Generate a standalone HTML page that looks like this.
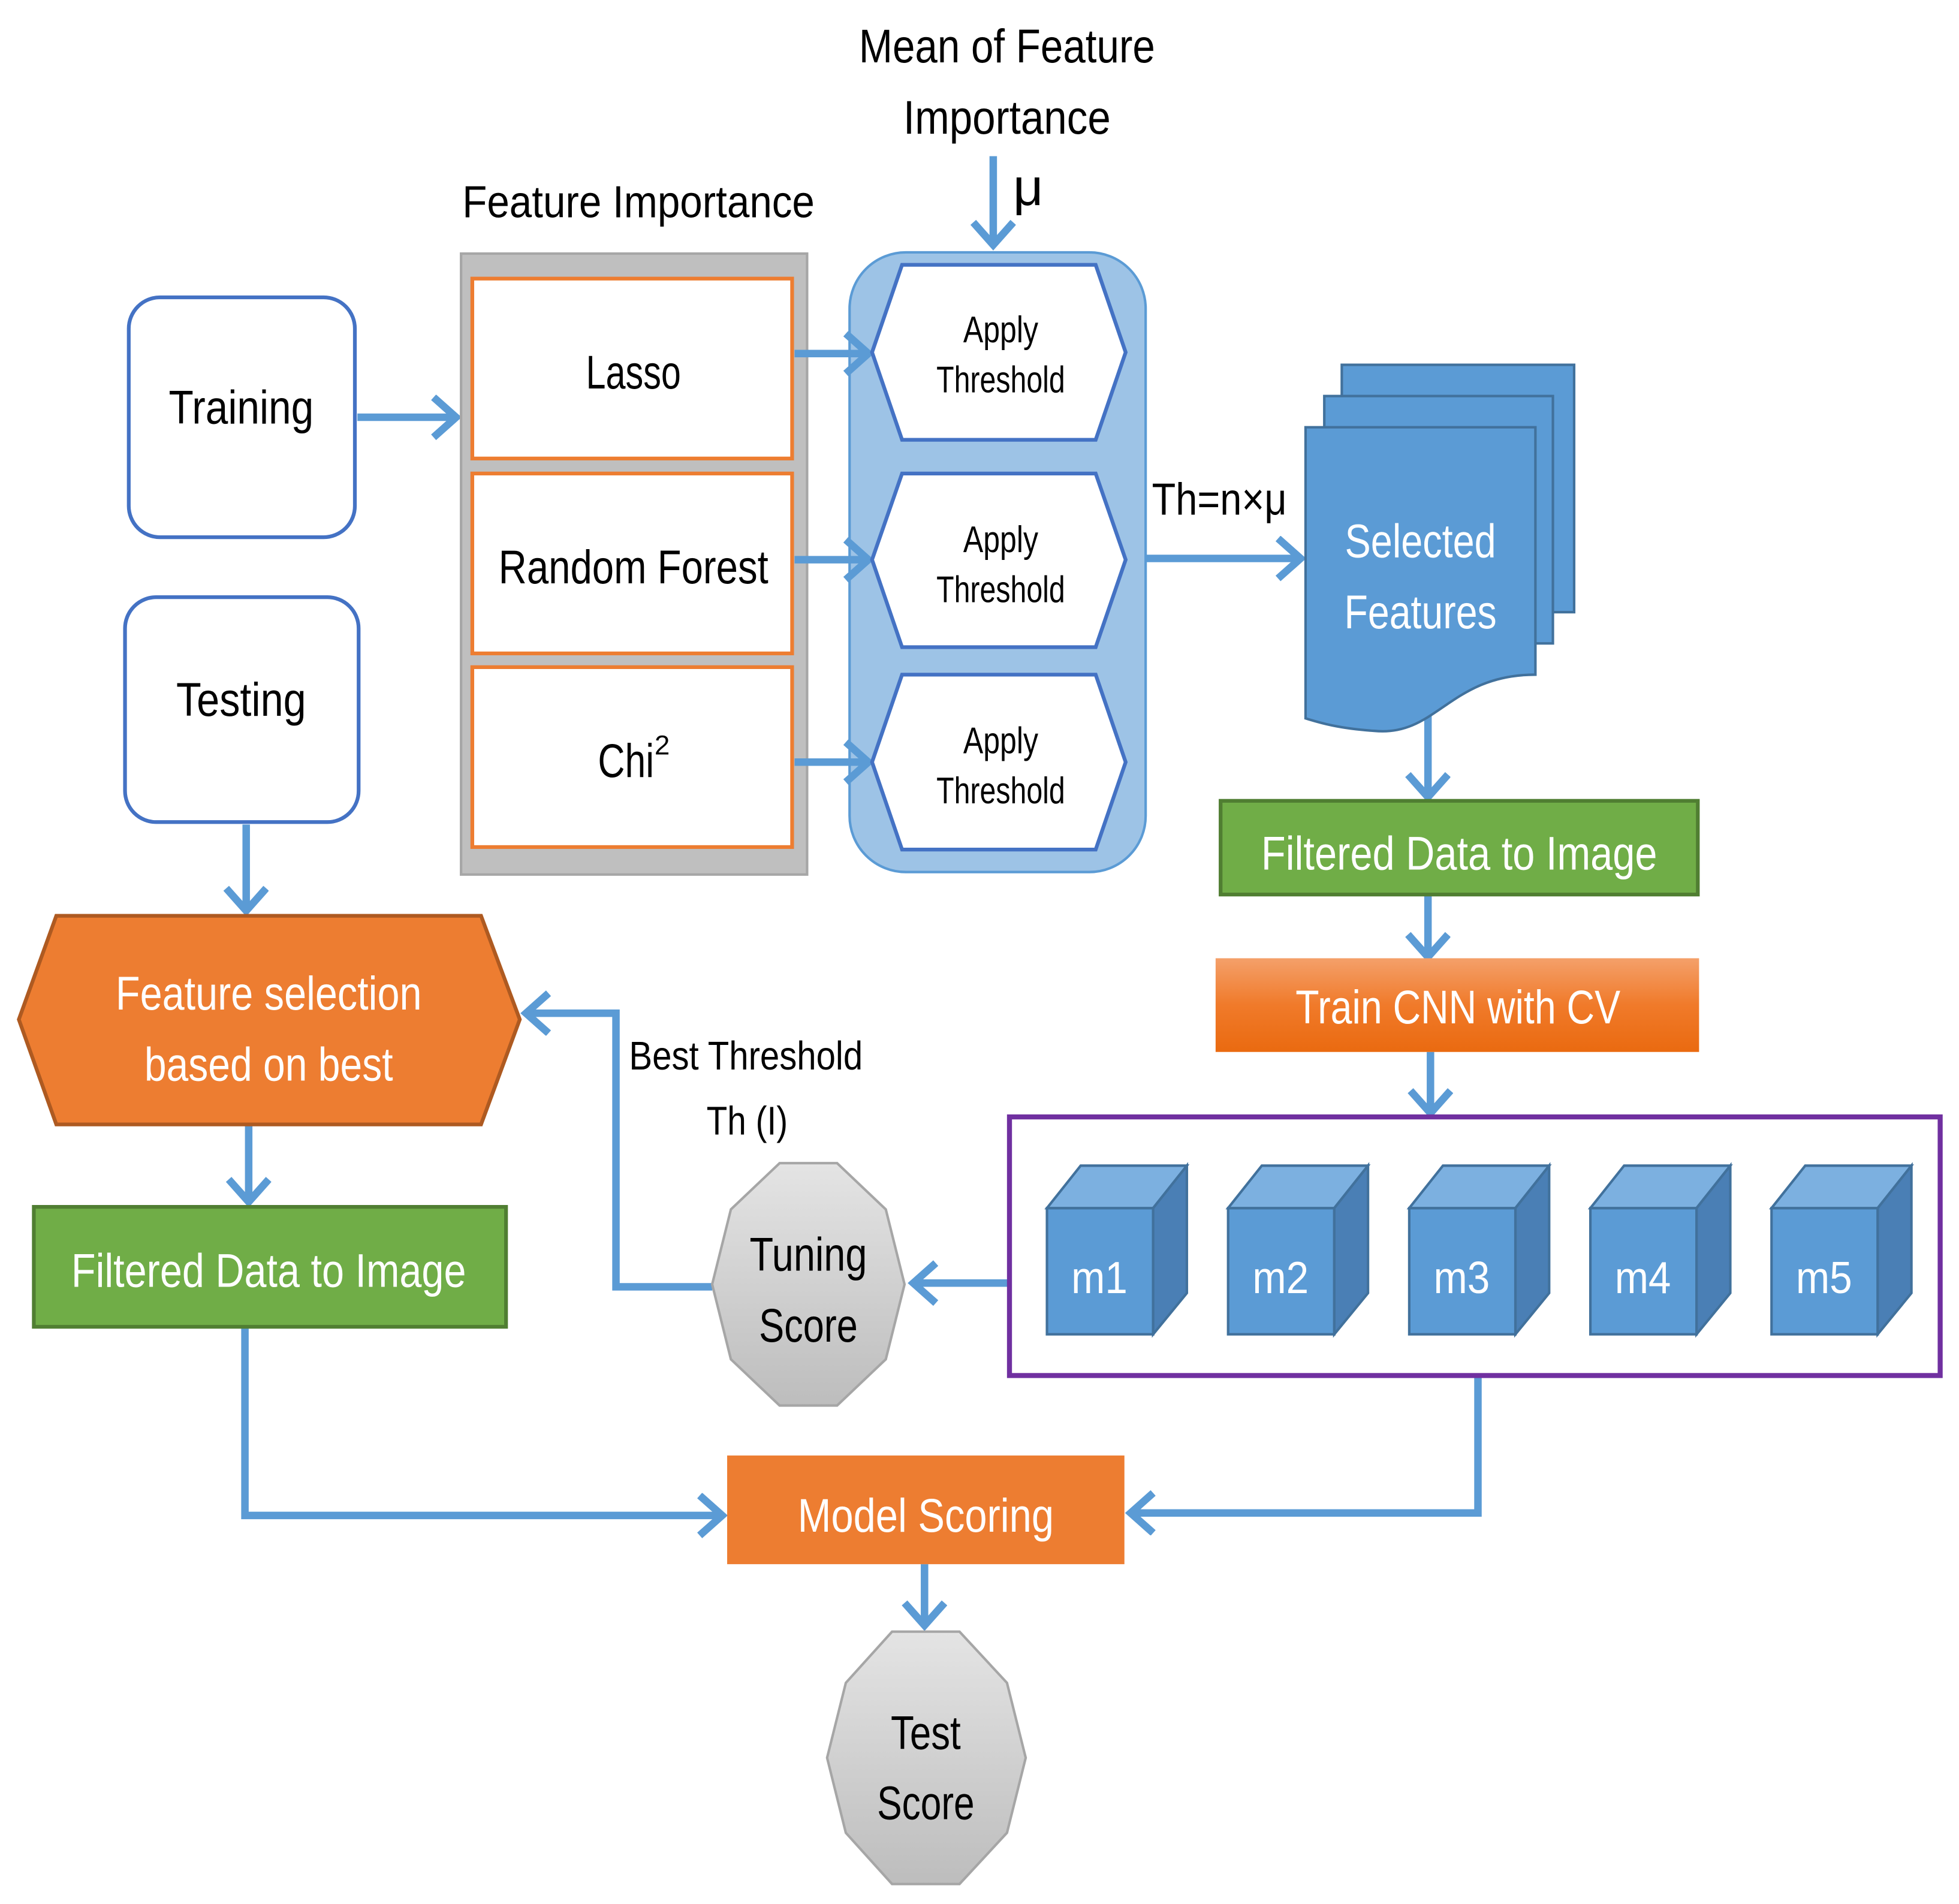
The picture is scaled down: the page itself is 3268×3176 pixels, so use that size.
<!DOCTYPE html>
<html><head><meta charset="utf-8"><style>
html,body{margin:0;padding:0;background:#fff;}
svg{display:block;}
text{font-family:"Liberation Sans Narrow","Liberation Sans",sans-serif;}
</style></head><body>
<svg width="3268" height="3176" viewBox="0 0 1568 1524" xmlns="http://www.w3.org/2000/svg">
<defs>
<marker id="a" markerUnits="userSpaceOnUse" markerWidth="30" markerHeight="40" refX="22" refY="18" orient="auto">
<path d="M4,2 L22,18 L4,34" fill="none" stroke="#5b9bd5" stroke-width="6"/>
</marker>
<linearGradient id="og" x1="0" y1="0" x2="0" y2="1"><stop offset="0" stop-color="#f4a06a"/><stop offset="0.5" stop-color="#f07a2a"/><stop offset="1" stop-color="#ea6a10"/></linearGradient>
<linearGradient id="gg" x1="0" y1="0" x2="0" y2="1"><stop offset="0" stop-color="#e4e4e4"/><stop offset="1" stop-color="#bdbdbd"/></linearGradient>
</defs>
<g fill="none" stroke="#5b9bd5" stroke-width="6" marker-end="url(#a)">
<path d="M795,125 V196"/>
<path d="M286,334 H365"/>
<path d="M917,447 H1041"/>
<path d="M1143,570 V638"/>
<path d="M1143,716 V766"/>
<path d="M1145,842 V891"/>
<path d="M808,1027 H731"/>
<path d="M570,1030 H493 V811 H421"/>
<path d="M197,660 V729"/>
<path d="M199,900 V962"/>
<path d="M196,1062 V1213 H578"/>
<path d="M1183,1101 V1211 H905"/>
<path d="M740,1252 V1301"/>
</g>
<g font-size="38" fill="#000" text-anchor="middle" lengthAdjust="spacingAndGlyphs">
<text x="806" y="50" textLength="237" lengthAdjust="spacingAndGlyphs">Mean of Feature</text>
<text x="806" y="107" textLength="166" lengthAdjust="spacingAndGlyphs">Importance</text>
<text x="823" y="164" font-size="42">μ</text>
<text x="511" y="174" font-size="36" textLength="282" lengthAdjust="spacingAndGlyphs">Feature Importance</text>
<text x="976" y="412" font-size="36" textLength="108" lengthAdjust="spacingAndGlyphs">Th=n×μ</text>
<text x="597" y="856" font-size="32" textLength="187" lengthAdjust="spacingAndGlyphs">Best Threshold</text>
<text x="598" y="908" font-size="32" textLength="65" lengthAdjust="spacingAndGlyphs">Th (I)</text>
</g>
<rect x="369" y="203" width="277" height="497" fill="#bfbfbf" stroke="#a6a6a6" stroke-width="2"/>
<g fill="#fff" stroke="#ed7d31" stroke-width="3">
<rect x="378" y="223" width="256" height="144"/>
<rect x="378" y="379" width="256" height="144"/>
<rect x="378" y="534" width="256" height="144"/>
</g>
<g font-size="38" text-anchor="middle" fill="#000">
<text x="507" y="311" textLength="76" lengthAdjust="spacingAndGlyphs">Lasso</text>
<text x="507" y="467" textLength="216" lengthAdjust="spacingAndGlyphs">Random Forest</text>
<text x="501" y="622" textLength="45" lengthAdjust="spacingAndGlyphs">Chi</text>
<text x="530" y="604" font-size="22">2</text>
</g>
<g fill="#fff" stroke="#4472c4" stroke-width="3">
<rect x="103" y="238" width="181" height="192" rx="25"/>
<rect x="100" y="478" width="187" height="180" rx="25"/>
</g>
<g font-size="38" text-anchor="middle" fill="#000">
<text x="193" y="339" textLength="116" lengthAdjust="spacingAndGlyphs">Training</text>
<text x="193" y="573" textLength="104" lengthAdjust="spacingAndGlyphs">Testing</text>
</g>
<rect x="680" y="202" width="237" height="496" rx="45" fill="#9dc3e6" stroke="#5b9bd5" stroke-width="2"/>
<g fill="none" stroke="#5b9bd5" stroke-width="6" marker-end="url(#a)">
<path d="M636,283 H695"/>
<path d="M636,448 H695"/>
<path d="M636,610 H695"/>
</g>
<g fill="#fff" stroke="#4472c4" stroke-width="3">
<polygon points="698,282 722,212 877,212 901,282 877,352 722,352"/>
<polygon points="698,448 722,379 877,379 901,448 877,518 722,518"/>
<polygon points="698,610 722,540 877,540 901,610 877,680 722,680"/>
</g>
<g font-size="30" text-anchor="middle" fill="#000">
<text x="801" y="274" textLength="60" lengthAdjust="spacingAndGlyphs">Apply</text><text x="801" y="314" textLength="103" lengthAdjust="spacingAndGlyphs">Threshold</text>
<text x="801" y="442" textLength="60" lengthAdjust="spacingAndGlyphs">Apply</text><text x="801" y="482" textLength="103" lengthAdjust="spacingAndGlyphs">Threshold</text>
<text x="801" y="603" textLength="60" lengthAdjust="spacingAndGlyphs">Apply</text><text x="801" y="643" textLength="103" lengthAdjust="spacingAndGlyphs">Threshold</text>
</g>
<g fill="#5b9bd5" stroke="#41719c" stroke-width="2">
<rect x="1074" y="292" width="186" height="198"/>
<rect x="1060" y="317" width="183" height="198"/>
<path d="M1045,342 H1229 V540 C1160,540 1150,590 1100,585 C1070,583 1055,578 1045,575 Z"/>
</g>
<g font-size="38" text-anchor="middle" fill="#fff">
<text x="1137" y="446" textLength="121" lengthAdjust="spacingAndGlyphs">Selected</text>
<text x="1137" y="503" textLength="122" lengthAdjust="spacingAndGlyphs">Features</text>
</g>
<rect x="977" y="641" width="382" height="75" fill="#70ad47" stroke="#507e32" stroke-width="3"/>
<text x="1168" y="696" font-size="38" text-anchor="middle" fill="#fff" textLength="317" lengthAdjust="spacingAndGlyphs">Filtered Data to Image</text>
<rect x="973" y="767" width="387" height="75" fill="url(#og)"/>
<text x="1167" y="819" font-size="38" text-anchor="middle" fill="#fff" textLength="260" lengthAdjust="spacingAndGlyphs">Train CNN with CV</text>
<rect x="808" y="894" width="745" height="207" fill="#fff" stroke="#7030a0" stroke-width="4"/>
<g stroke="#41719c" stroke-width="2">
<g id="cube">
<rect x="838" y="967" width="85" height="101" fill="#5b9bd5"/>
<polygon points="838,967 865,933 950,933 923,967" fill="#7cb0e0"/>
<polygon points="923,967 950,933 950,1035 923,1068" fill="#4a7fb5"/>
</g>
<use href="#cube" x="145"/>
<use href="#cube" x="290"/>
<use href="#cube" x="435"/>
<use href="#cube" x="580"/>
</g>
<g font-size="36" text-anchor="middle" fill="#fff">
<text x="880" y="1035" textLength="45" lengthAdjust="spacingAndGlyphs">m1</text>
<text x="1025" y="1035" textLength="45" lengthAdjust="spacingAndGlyphs">m2</text>
<text x="1170" y="1035" textLength="45" lengthAdjust="spacingAndGlyphs">m3</text>
<text x="1315" y="1035" textLength="45" lengthAdjust="spacingAndGlyphs">m4</text>
<text x="1460" y="1035" textLength="45" lengthAdjust="spacingAndGlyphs">m5</text>
</g>
<polygon points="724,1028 709,1088 670,1125 624,1125 585,1088 570,1028 585,968 624,931 670,931 709,968" fill="url(#gg)" stroke="#a6a6a6" stroke-width="2"/>
<g font-size="38" text-anchor="middle" fill="#000">
<text x="647" y="1017" textLength="94" lengthAdjust="spacingAndGlyphs">Tuning</text>
<text x="647" y="1074" textLength="79" lengthAdjust="spacingAndGlyphs">Score</text>
</g>
<polygon points="15,816 45,733 385,733 416,816 385,900 45,900" fill="#ed7d31" stroke="#ae5a21" stroke-width="3"/>
<g font-size="38" text-anchor="middle" fill="#fff">
<text x="215" y="808" textLength="245" lengthAdjust="spacingAndGlyphs">Feature selection</text>
<text x="215" y="865" textLength="199" lengthAdjust="spacingAndGlyphs">based on best</text>
</g>
<rect x="27" y="966" width="378" height="96" fill="#70ad47" stroke="#507e32" stroke-width="3"/>
<text x="215" y="1030" font-size="38" text-anchor="middle" fill="#fff" textLength="316" lengthAdjust="spacingAndGlyphs">Filtered Data to Image</text>
<rect x="582" y="1165" width="318" height="87" fill="#ed7d31"/>
<text x="741" y="1226" font-size="38" text-anchor="middle" fill="#fff" textLength="205" lengthAdjust="spacingAndGlyphs">Model Scoring</text>
<polygon points="821,1407 806,1467 768,1508 714,1508 677,1467 662,1407 677,1347 714,1306 768,1306 806,1347" fill="url(#gg)" stroke="#a6a6a6" stroke-width="2"/>
<g font-size="38" text-anchor="middle" fill="#000">
<text x="741" y="1400" textLength="56" lengthAdjust="spacingAndGlyphs">Test</text>
<text x="741" y="1456" textLength="78" lengthAdjust="spacingAndGlyphs">Score</text>
</g>
</svg>
</body></html>
